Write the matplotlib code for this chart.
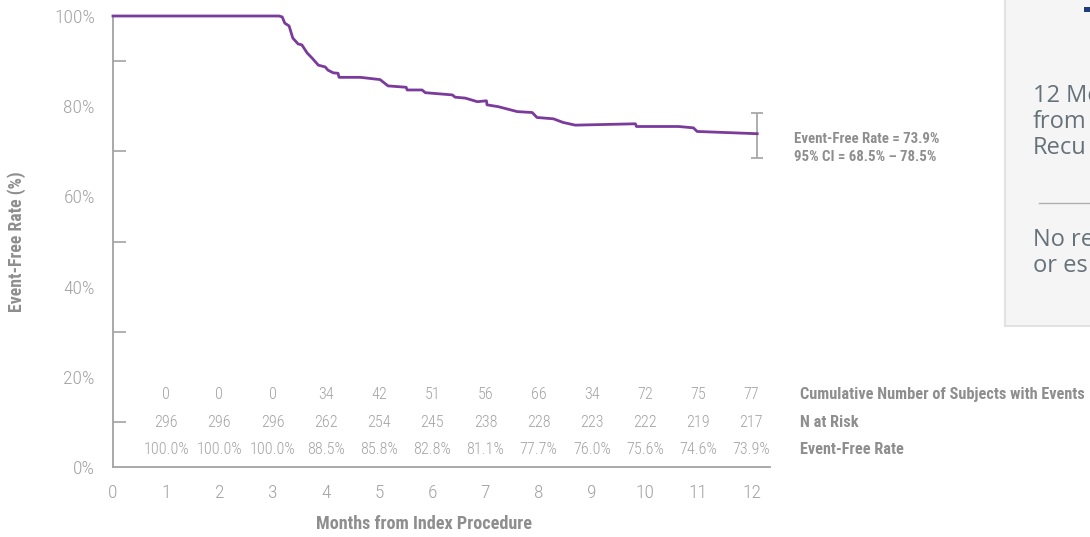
import matplotlib
matplotlib.use("Agg")
from matplotlib import pyplot as plt
from matplotlib import font_manager
from matplotlib.patches import Rectangle
from matplotlib.lines import Line2D

# Kaplan-Meier style curve (months, event-free %)
months = [0, 3.12, 3.18, 3.23, 3.31, 3.38, 3.48, 3.55, 3.65, 3.74, 3.86, 3.99,
          4.04, 4.14, 4.23, 4.25, 4.65, 5.02, 5.17, 5.51, 5.53, 5.81, 5.87,
          6.38, 6.43, 6.62, 6.85, 7.02, 7.03, 7.24, 7.60, 7.88, 7.97, 8.28,
          8.46, 8.69, 9.82, 9.84, 10.63, 10.91, 10.98, 12.11]
rate = [100, 100, 99.8, 98.4, 97.8, 95.1, 93.8, 93.6, 91.8, 90.7, 89.1, 88.7,
        88.0, 87.4, 87.3, 86.4, 86.4, 85.9, 84.5, 84.2, 83.6, 83.6, 83.0,
        82.5, 82.0, 81.8, 81.0, 81.2, 80.3, 79.9, 78.8, 78.6, 77.5, 77.2,
        76.4, 75.8, 76.1, 75.5, 75.5, 75.2, 74.4, 73.9]
ci_low, ci_high = 68.5, 78.5

table_months = list(range(1, 13))
cum_events = [0, 0, 0, 34, 42, 51, 56, 66, 34, 72, 75, 77]
n_at_risk = [296, 296, 296, 262, 254, 245, 238, 228, 223, 222, 219, 217]
efr = ["100.0%", "100.0%", "100.0%", "88.5%", "85.8%", "82.8%",
       "81.1%", "77.7%", "76.0%", "75.6%", "74.6%", "73.9%"]
row_labels = ["Cumulative Number of Subjects with Events", "N at Risk",
              "Event-Free Rate"]


def pick_narrow():
    # look for a condensed face, otherwise use the narrowest plain one
    fonts = font_manager.fontManager.ttflist
    names = {f.name for f in fonts}
    for name in ("Roboto Condensed", "Liberation Sans Narrow",
                 "Open Sans Condensed", "Noto Sans Condensed"):
        if name in names:
            return {"family": [name, "DejaVu Sans"]}
    for f in fonts:
        if f.name == "DejaVu Sans" and "Condensed" in f.fname:
            return {"family": ["DejaVu Sans"], "stretch": "condensed"}
    return {"family": ["Roboto", "DejaVu Sans"]}


NARROW = pick_narrow()
GREY = "#a3a3a3"
DARK_GREY = "#8e8e8e"
PURPLE = "#7a3b9c"

fig = plt.figure(figsize=(10.9, 5.37), dpi=100)
ax = fig.add_axes([113 / 1090, 1 - 467 / 537, (770 - 113) / 1090, (467 - 16) / 537])

ax.plot(months, rate, color=PURPLE, lw=2.0, clip_on=False, zorder=3)
ax.errorbar([months[-1]], [rate[-1]],
            yerr=[[rate[-1] - ci_low], [ci_high - rate[-1]]],
            fmt="none", ecolor="#a8a8a8", elinewidth=1.3, capsize=4, capthick=1.3)

ax.set_xlim(0, 12.35)
ax.set_ylim(0, 100)
ax.set_xticks(range(0, 13))
ax.set_yticks(range(0, 101, 20))
ax.set_yticklabels([f"{v}%" for v in range(0, 101, 20)])
ax.set_yticks(range(10, 100, 20), minor=True)
ax.tick_params(axis="x", length=0, pad=12, labelsize=14, labelcolor=GREY)
ax.tick_params(axis="y", which="major", length=0, pad=13, labelsize=14,
               labelcolor=GREY)
ax.tick_params(axis="y", which="minor", direction="in", length=9, width=1.2,
               color=GREY)
for lab in ax.get_xticklabels() + ax.get_yticklabels():
    lab.set_family(NARROW["family"])
    lab.set_fontweight("light")
    if "stretch" in NARROW:
        lab.set_stretch(NARROW["stretch"])

for side in ("top", "right"):
    ax.spines[side].set_visible(False)
for side in ("left", "bottom"):
    ax.spines[side].set_color(GREY)
    ax.spines[side].set_linewidth(1.3)

# table under the curve
row_y = [16.0, 9.8, 3.8]
for m, c, n, e in zip(table_months, cum_events, n_at_risk, efr):
    for val, y in zip((c, n, e), row_y):
        ax.text(m, y, str(val), ha="center", va="center", fontsize=11.6,
                color=GREY, fontweight="light", **NARROW)
for lab, y in zip(row_labels, row_y):
    ax.text(12.92, y, lab, ha="left", va="center", fontsize=11.7, color=DARK_GREY,
            fontweight="bold", clip_on=False, **NARROW)

ax.text(12.8, 72.8, f"Event-Free Rate = {rate[-1]}%", ha="left", va="center",
        fontsize=10.7, color=DARK_GREY, fontweight="bold", **NARROW)
ax.text(12.8, 68.8, f"95% CI = {ci_low}% \u2013 {ci_high}%", ha="left",
        va="center", fontsize=10.7, color=DARK_GREY, fontweight="bold", **NARROW)

fig.text(17 / 1090, 1 - 242 / 537, "Event-Free Rate (%)", rotation=90,
         ha="center", va="center", fontsize=12.8, color=DARK_GREY,
         fontweight="bold", **NARROW)
fig.text(424 / 1090, 1 - 524 / 537, "Months from Index Procedure", ha="center",
         va="center", fontsize=13.1, color=DARK_GREY, fontweight="bold", **NARROW)

# cropped side panel at the right edge
fig.patches.append(Rectangle((1005 / 1090, 1 - 326 / 537), 0.2, 0.7,
                             transform=fig.transFigure, facecolor="#f5f5f5",
                             edgecolor="#e2e2e2", lw=1.5, zorder=0))
fig.patches.append(Rectangle((1084 / 1090, 1 - 12 / 537), 0.01, 5 / 537,
                             transform=fig.transFigure, facecolor="#1f3f7a",
                             edgecolor="none"))
fig.lines.append(Line2D([1039 / 1090, 1.0], [1 - 203 / 537] * 2,
                        transform=fig.transFigure, color="#b0b0b0", lw=1))
side_font = ["Open Sans", "DejaVu Sans"]
for txt, y in (("12 Mo", 96), ("from", 122), ("Recu", 148),
               ("No re", 240), ("or es", 266)):
    fig.text(1033 / 1090, 1 - y / 537, txt, ha="left", va="center",
             fontsize=17, color="#66727a", family=side_font)

fig.savefig("out.png", dpi=100)
